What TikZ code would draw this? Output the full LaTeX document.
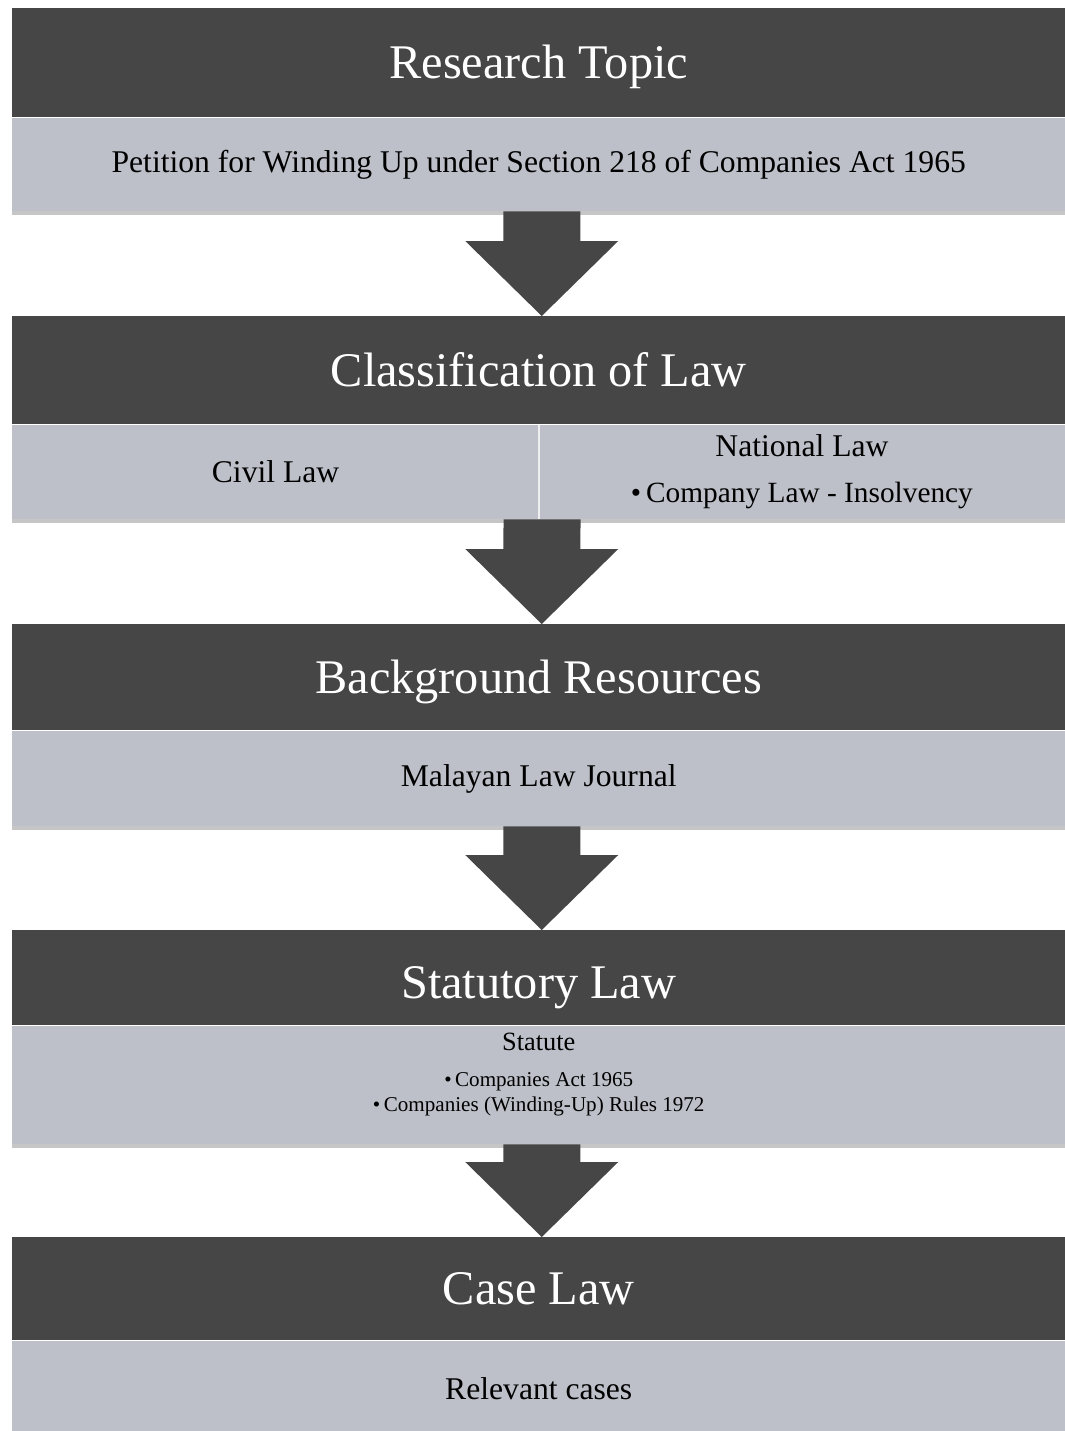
\documentclass[tikz,border=0pt]{standalone}
\usepackage{fontspec}
\setmainfont{Liberation Serif}
\usetikzlibrary{calc, shadows}

\definecolor{hdrgray}{HTML}{464646}
\definecolor{bargray}{HTML}{BDC0C8}

\tikzset{
  hdr/.style={fill=hdrgray, text=white, font=\fontsize{27.5}{32}\selectfont,
    minimum width=21.06cm, inner sep=0pt, anchor=north west,
    text height=0.64cm, text depth=0pt},
  bar/.style={fill=bargray, font=\fontsize{18}{21}\selectfont,
    minimum width=21.06cm, inner sep=0pt, anchor=north,
    drop shadow={shadow xshift=0pt, shadow yshift=-0.07cm, opacity=0.45}},
  halfbar/.style={bar, minimum width=10.53cm, align=center},
  blockarrow/.style={fill=hdrgray}
}

% block arrow from the bottom of one bar (#1) to the top of the next header (#2)
\newcommand{\flowarrow}[2]{%
  \fill[blockarrow] ($(#1)+(-35.5,0)$) -- ($(#2)+(-35.5,-75)$)
    -- ($(#2)+(-73.5,-75)$) -- ($(#2)+(3,0)$) -- ($(#2)+(79.5,-75)$)
    -- ($(#2)+(41.5,-75)$) -- ($(#1)+(41.5,0)$) -- cycle;
}

\begin{document}
\begin{tikzpicture}[x=0.02cm, y=-0.02cm]
  \useasboundingbox (0,0) rectangle (1065,1431);

  % Research topic
  \node[hdr, minimum height=2.18cm] (topic) at (12,8) {Research Topic};
  \node[bar, minimum height=1.86cm] (petition) at (topic.south)
    {Petition for Winding Up under Section 218 of Companies Act 1965};

  % Classification
  \node[hdr, minimum height=2.16cm] (classif) at (12,316) {Classification of Law};
  \node[halfbar, minimum height=1.88cm, anchor=north west] (civil) at (classif.south west) {Civil Law};
  \node[halfbar, minimum height=1.88cm, anchor=north east] (national) at (classif.south east)
    {National Law\\[5pt]{\fontsize{16.7}{20}\selectfont\textbullet\,Company Law - Insolvency}};
  \draw[white!75!bargray, line width=0.8pt] (civil.north east) -- (civil.south east);

  % Background resources
  \node[hdr, minimum height=2.12cm] (backgr) at (12,624) {Background Resources};
  \node[bar, minimum height=1.9cm] (journal) at (backgr.south) {Malayan Law Journal};

  % Statutory law
  \node[hdr, minimum height=1.9cm, text height=0.82cm] (statlaw) at (12,930) {Statutory Law};
  \node[bar, minimum height=2.36cm] (statbar) at (statlaw.south) {};
  \node[anchor=north, inner sep=0pt, align=center, font=\fontsize{12}{14.5}\selectfont]
    (statute) at ($(statbar.north)+(0,7)$)
    {{\fontsize{15}{18}\selectfont Statute}\\[6pt]
     \textbullet\,Companies Act 1965\\
     \textbullet\,Companies (Winding-Up) Rules 1972};

  % Case law
  \node[hdr, minimum height=2.06cm] (caselaw) at (12,1237) {Case Law};
  \node[bar, minimum height=1.9cm] (cases) at (caselaw.south) {Relevant cases};

  \flowarrow{petition.south}{classif.north}
  \flowarrow{civil.south east}{backgr.north}
  \flowarrow{journal.south}{statlaw.north}
  \flowarrow{statbar.south}{caselaw.north}
\end{tikzpicture}
\end{document}
